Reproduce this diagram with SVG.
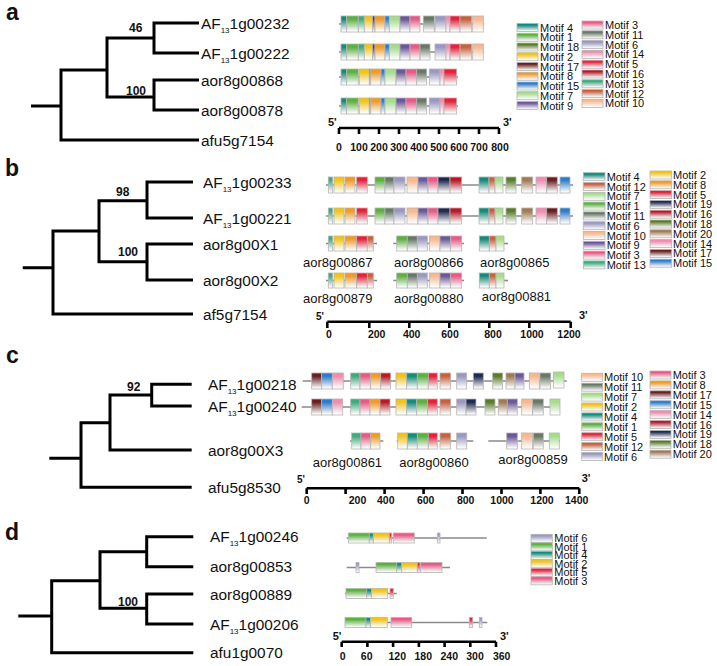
<svg xmlns="http://www.w3.org/2000/svg" width="717" height="666" viewBox="0 0 717 666">
<defs>
<linearGradient id="g1" x1="0" y1="0" x2="0" y2="1"><stop offset="0" stop-color="#5cb040"/><stop offset="0.2" stop-color="#5cb040"/><stop offset="0.95" stop-color="#fff"/></linearGradient>
<linearGradient id="g2" x1="0" y1="0" x2="0" y2="1"><stop offset="0" stop-color="#f2c417"/><stop offset="0.2" stop-color="#f2c417"/><stop offset="0.95" stop-color="#fff"/></linearGradient>
<linearGradient id="g3" x1="0" y1="0" x2="0" y2="1"><stop offset="0" stop-color="#e85a85"/><stop offset="0.2" stop-color="#e85a85"/><stop offset="0.95" stop-color="#fff"/></linearGradient>
<linearGradient id="g4" x1="0" y1="0" x2="0" y2="1"><stop offset="0" stop-color="#148a7a"/><stop offset="0.2" stop-color="#148a7a"/><stop offset="0.95" stop-color="#fff"/></linearGradient>
<linearGradient id="g5" x1="0" y1="0" x2="0" y2="1"><stop offset="0" stop-color="#e5203a"/><stop offset="0.2" stop-color="#e5203a"/><stop offset="0.95" stop-color="#fff"/></linearGradient>
<linearGradient id="g6" x1="0" y1="0" x2="0" y2="1"><stop offset="0" stop-color="#9a98c0"/><stop offset="0.2" stop-color="#9a98c0"/><stop offset="0.95" stop-color="#fff"/></linearGradient>
<linearGradient id="g7" x1="0" y1="0" x2="0" y2="1"><stop offset="0" stop-color="#a6dc8c"/><stop offset="0.2" stop-color="#a6dc8c"/><stop offset="0.95" stop-color="#fff"/></linearGradient>
<linearGradient id="g8" x1="0" y1="0" x2="0" y2="1"><stop offset="0" stop-color="#f09a28"/><stop offset="0.2" stop-color="#f09a28"/><stop offset="0.95" stop-color="#fff"/></linearGradient>
<linearGradient id="g9" x1="0" y1="0" x2="0" y2="1"><stop offset="0" stop-color="#6a5898"/><stop offset="0.2" stop-color="#6a5898"/><stop offset="0.95" stop-color="#fff"/></linearGradient>
<linearGradient id="g10" x1="0" y1="0" x2="0" y2="1"><stop offset="0" stop-color="#f8b890"/><stop offset="0.2" stop-color="#f8b890"/><stop offset="0.95" stop-color="#fff"/></linearGradient>
<linearGradient id="g11" x1="0" y1="0" x2="0" y2="1"><stop offset="0" stop-color="#687866"/><stop offset="0.2" stop-color="#687866"/><stop offset="0.95" stop-color="#fff"/></linearGradient>
<linearGradient id="g12" x1="0" y1="0" x2="0" y2="1"><stop offset="0" stop-color="#c8603e"/><stop offset="0.2" stop-color="#c8603e"/><stop offset="0.95" stop-color="#fff"/></linearGradient>
<linearGradient id="g13" x1="0" y1="0" x2="0" y2="1"><stop offset="0" stop-color="#3caa7c"/><stop offset="0.2" stop-color="#3caa7c"/><stop offset="0.95" stop-color="#fff"/></linearGradient>
<linearGradient id="g14" x1="0" y1="0" x2="0" y2="1"><stop offset="0" stop-color="#f08cb0"/><stop offset="0.2" stop-color="#f08cb0"/><stop offset="0.95" stop-color="#fff"/></linearGradient>
<linearGradient id="g15" x1="0" y1="0" x2="0" y2="1"><stop offset="0" stop-color="#2c7ccc"/><stop offset="0.2" stop-color="#2c7ccc"/><stop offset="0.95" stop-color="#fff"/></linearGradient>
<linearGradient id="g16" x1="0" y1="0" x2="0" y2="1"><stop offset="0" stop-color="#b81828"/><stop offset="0.2" stop-color="#b81828"/><stop offset="0.95" stop-color="#fff"/></linearGradient>
<linearGradient id="g17" x1="0" y1="0" x2="0" y2="1"><stop offset="0" stop-color="#6a1e1e"/><stop offset="0.2" stop-color="#6a1e1e"/><stop offset="0.95" stop-color="#fff"/></linearGradient>
<linearGradient id="g18" x1="0" y1="0" x2="0" y2="1"><stop offset="0" stop-color="#5a7c2a"/><stop offset="0.2" stop-color="#5a7c2a"/><stop offset="0.95" stop-color="#fff"/></linearGradient>
<linearGradient id="g19" x1="0" y1="0" x2="0" y2="1"><stop offset="0" stop-color="#1e2a50"/><stop offset="0.2" stop-color="#1e2a50"/><stop offset="0.95" stop-color="#fff"/></linearGradient>
<linearGradient id="g20" x1="0" y1="0" x2="0" y2="1"><stop offset="0" stop-color="#a07a52"/><stop offset="0.2" stop-color="#a07a52"/><stop offset="0.95" stop-color="#fff"/></linearGradient>
</defs>
<style>
text{font-family:"Liberation Sans",Arial,sans-serif;fill:#111}
.pl{font-size:23px;font-weight:bold}
.lf{font-size:15.4px}
.sub{font-size:8px}
.bs{font-size:12px;font-weight:bold}
.ax{font-size:10.5px;font-weight:bold;text-anchor:middle}
.end{font-size:11px;font-weight:bold}
.gl{font-size:13px}
.lg{font-size:11px}
.tree{fill:none;stroke:#000;stroke-width:3}
.axl{fill:none;stroke:#000;stroke-width:2.6}
.m{stroke:#b4b4b4;stroke-width:0.8}
.ln{stroke:#8a8a8a;stroke-width:1.6}
</style>
<rect width="717" height="666" fill="#fff"/>

<!-- panel labels -->
<text class="pl" x="6" y="20">a</text>
<text class="pl" x="5" y="176">b</text>
<text class="pl" x="6" y="363">c</text>
<text class="pl" x="5" y="540">d</text>

<!-- connectors: tree branches -->
<g id="connectors">
<path class="tree" d="M199,23 H154 V53 H199 M199,80 H154 V110 H199 M154,38 H107 V97 H154 M107,70 H61 V140 H199 M31,106 H61"/>
<path class="tree" d="M193,182 H147 V218 H193 M193,244 H147 V280 H193 M147,200.7 H99 V261.7 H147 M99,231 H53 V314 H193 M22.7,267.7 H53"/>
<path class="tree" d="M191.7,384.3 H151.7 V406 H191.7 M151.7,395 H110 V450 H191.7 M110,422.7 H81 V487.3 H191.7 M49.3,458.3 H81"/>
<path class="tree" d="M193.3,536.7 H146.7 V566.7 H193.3 M193.3,594 H146.7 V624 H193.3 M146.7,551.7 H100 V608.3 H146.7 M100,580.7 H51.7 V652.7 H193.3 M18.3,616 H51.7"/>
</g>

<!-- bootstrap values -->
<g id="bootstrap">
<text class="bs" x="129" y="31.5">46</text>
<text class="bs" x="126" y="94.5">100</text>
<text class="bs" x="116" y="196">98</text>
<text class="bs" x="118" y="255.5">100</text>
<text class="bs" x="127" y="391">92</text>
<text class="bs" x="118" y="606">100</text>
</g>

<!-- leaf labels -->
<g id="leaves-a">
<text class="lf" x="201" y="29">AF<tspan class="sub" dy="4">13</tspan><tspan dy="-4">1g00232</tspan></text>
<text class="lf" x="201" y="59">AF<tspan class="sub" dy="4">13</tspan><tspan dy="-4">1g00222</tspan></text>
<text class="lf" x="201" y="86">aor8g00868</text>
<text class="lf" x="201" y="116">aor8g00878</text>
<text class="lf" x="201" y="146">afu5g7154</text>
</g>
<g id="leaves-b">
<text class="lf" x="203" y="187.5">AF<tspan class="sub" dy="4">13</tspan><tspan dy="-4">1g00233</tspan></text>
<text class="lf" x="203" y="223.5">AF<tspan class="sub" dy="4">13</tspan><tspan dy="-4">1g00221</tspan></text>
<text class="lf" x="203" y="249.5">aor8g00X1</text>
<text class="lf" x="203" y="285.5">aor8g00X2</text>
<text class="lf" x="203" y="319.5">af5g7154</text>
</g>
<g id="leaves-c">
<text class="lf" x="208" y="390">AF<tspan class="sub" dy="4">13</tspan><tspan dy="-4">1g00218</tspan></text>
<text class="lf" x="208" y="411.5">AF<tspan class="sub" dy="4">13</tspan><tspan dy="-4">1g00240</tspan></text>
<text class="lf" x="208" y="455.5">aor8g00X3</text>
<text class="lf" x="208" y="493">afu5g8530</text>
</g>
<g id="leaves-d">
<text class="lf" x="210" y="542">AF<tspan class="sub" dy="4">13</tspan><tspan dy="-4">1g00246</tspan></text>
<text class="lf" x="210" y="572">aor8g00853</text>
<text class="lf" x="210" y="599.5">aor8g00889</text>
<text class="lf" x="210" y="629.5">AF<tspan class="sub" dy="4">13</tspan><tspan dy="-4">1g00206</tspan></text>
<text class="lf" x="210" y="658">afu1g0070</text>
</g>

<!-- PANEL A motif rows -->
<g id="a-row1" transform="translate(0,16)">
<line class="ln" x1="339" y1="8" x2="484" y2="8"/>
<rect class="m" x="341" y="0" width="5.7" height="16" fill="url(#g4)"/>
<rect class="m" x="346.7" y="0" width="11.6" height="16" fill="url(#g1)"/>
<rect class="m" x="358.3" y="0" width="6" height="16" fill="url(#g13)"/>
<rect class="m" x="364.3" y="0" width="8.4" height="16" fill="url(#g2)"/>
<rect class="m" x="372.7" y="0" width="2.3" height="16" fill="url(#g17)"/>
<rect class="m" x="375" y="0" width="10" height="16" fill="url(#g8)"/>
<rect class="m" x="385" y="0" width="4.3" height="16" fill="url(#g15)"/>
<rect class="m" x="389.3" y="0" width="10.7" height="16" fill="url(#g7)"/>
<rect class="m" x="400" y="0" width="10" height="16" fill="url(#g9)"/>
<rect class="m" x="410" y="0" width="10" height="16" fill="url(#g3)"/>
<rect class="m" x="423.3" y="0" width="11" height="16" fill="url(#g11)"/>
<rect class="m" x="435" y="0" width="11" height="16" fill="url(#g6)"/>
<rect class="m" x="446" y="0" width="4" height="16" fill="url(#g14)"/>
<rect class="m" x="450" y="0" width="10" height="16" fill="url(#g5)"/>
<rect class="m" x="460" y="0" width="11.7" height="16" fill="url(#g12)"/>
<rect class="m" x="472.7" y="0" width="10.6" height="16" fill="url(#g10)"/>
</g>
<g id="a-row2" transform="translate(0,44)">
<line class="ln" x1="339" y1="8" x2="484" y2="8"/>
<rect class="m" x="341" y="0" width="5.7" height="16" fill="url(#g4)"/>
<rect class="m" x="346.7" y="0" width="11.6" height="16" fill="url(#g1)"/>
<rect class="m" x="358.3" y="0" width="6" height="16" fill="url(#g13)"/>
<rect class="m" x="364.3" y="0" width="8.4" height="16" fill="url(#g2)"/>
<rect class="m" x="372.7" y="0" width="2.3" height="16" fill="url(#g17)"/>
<rect class="m" x="375" y="0" width="10" height="16" fill="url(#g8)"/>
<rect class="m" x="385" y="0" width="4.3" height="16" fill="url(#g15)"/>
<rect class="m" x="389.3" y="0" width="10.7" height="16" fill="url(#g7)"/>
<rect class="m" x="400" y="0" width="10" height="16" fill="url(#g9)"/>
<rect class="m" x="410" y="0" width="10" height="16" fill="url(#g3)"/>
<rect class="m" x="420" y="0" width="10" height="16" fill="url(#g11)"/>
<rect class="m" x="435" y="0" width="11" height="16" fill="url(#g6)"/>
<rect class="m" x="446" y="0" width="4" height="16" fill="url(#g14)"/>
<rect class="m" x="450" y="0" width="10" height="16" fill="url(#g5)"/>
<rect class="m" x="460" y="0" width="11.7" height="16" fill="url(#g12)"/>
<rect class="m" x="472.7" y="0" width="10.6" height="16" fill="url(#g10)"/>
</g>
<g id="a-row3" transform="translate(0,69)">
<line class="ln" x1="339" y1="8" x2="458" y2="8"/>
<rect class="m" x="341" y="0" width="5.7" height="16" fill="url(#g4)"/>
<rect class="m" x="346.7" y="0" width="11.6" height="16" fill="url(#g1)"/>
<rect class="m" x="359.3" y="0" width="10" height="16" fill="url(#g2)"/>
<rect class="m" x="369.3" y="0" width="1.4" height="16" fill="url(#g17)"/>
<rect class="m" x="370.7" y="0" width="10.3" height="16" fill="url(#g8)"/>
<rect class="m" x="381" y="0" width="4" height="16" fill="url(#g15)"/>
<rect class="m" x="385" y="0" width="11" height="16" fill="url(#g7)"/>
<rect class="m" x="396" y="0" width="10" height="16" fill="url(#g9)"/>
<rect class="m" x="406" y="0" width="10.7" height="16" fill="url(#g3)"/>
<rect class="m" x="416.7" y="0" width="10" height="16" fill="url(#g11)"/>
<rect class="m" x="429.3" y="0" width="10.7" height="16" fill="url(#g6)"/>
<rect class="m" x="440" y="0" width="4" height="16" fill="url(#g14)"/>
<rect class="m" x="444" y="0" width="12.7" height="16" fill="url(#g5)"/>
</g>
<g id="a-row4" transform="translate(0,98)">
<line class="ln" x1="339" y1="8" x2="458" y2="8"/>
<rect class="m" x="341" y="0" width="5.7" height="16" fill="url(#g4)"/>
<rect class="m" x="346.7" y="0" width="11.6" height="16" fill="url(#g1)"/>
<rect class="m" x="359.3" y="0" width="10" height="16" fill="url(#g2)"/>
<rect class="m" x="369.3" y="0" width="1.4" height="16" fill="url(#g17)"/>
<rect class="m" x="370.7" y="0" width="10.3" height="16" fill="url(#g8)"/>
<rect class="m" x="381" y="0" width="4" height="16" fill="url(#g15)"/>
<rect class="m" x="385" y="0" width="11" height="16" fill="url(#g7)"/>
<rect class="m" x="396" y="0" width="10" height="16" fill="url(#g9)"/>
<rect class="m" x="406" y="0" width="10.7" height="16" fill="url(#g3)"/>
<rect class="m" x="416.7" y="0" width="10" height="16" fill="url(#g11)"/>
<rect class="m" x="429.3" y="0" width="10.7" height="16" fill="url(#g6)"/>
<rect class="m" x="440" y="0" width="4" height="16" fill="url(#g14)"/>
<rect class="m" x="444" y="0" width="12.7" height="16" fill="url(#g5)"/>
</g>

<!-- PANEL A scale -->
<g id="a-scale">
<path class="axl" d="M339,128 H499 M339,128 V134 M359,128 V134 M379,128 V134 M399,128 V134 M419,128 V134 M439,128 V134 M459,128 V134 M479,128 V134 M499,128 V134"/>
<text class="end" x="328" y="126">5'</text>
<text class="end" x="503" y="126">3'</text>
<text class="ax" x="339" y="150.5">0</text>
<text class="ax" x="359" y="150.5">100</text>
<text class="ax" x="379" y="150.5">200</text>
<text class="ax" x="399" y="150.5">300</text>
<text class="ax" x="419" y="150.5">400</text>
<text class="ax" x="439" y="150.5">500</text>
<text class="ax" x="459" y="150.5">600</text>
<text class="ax" x="479" y="150.5">700</text>
<text class="ax" x="500" y="150.5">800</text>
</g>

<!-- PANEL A legend -->
<g id="a-legend">
<rect class="m" x="517" y="23.5" width="21" height="8" fill="url(#g4)"/><text class="lg" x="540" y="31.5">Motif 4</text>
<rect class="m" x="517" y="33.25" width="21" height="8" fill="url(#g1)"/><text class="lg" x="540" y="41.25">Motif 1</text>
<rect class="m" x="517" y="43" width="21" height="8" fill="url(#g18)"/><text class="lg" x="540" y="51">Motif 18</text>
<rect class="m" x="517" y="52.75" width="21" height="8" fill="url(#g2)"/><text class="lg" x="540" y="60.75">Motif 2</text>
<rect class="m" x="517" y="62.5" width="21" height="8" fill="url(#g17)"/><text class="lg" x="540" y="70.5">Motif 17</text>
<rect class="m" x="517" y="72.25" width="21" height="8" fill="url(#g8)"/><text class="lg" x="540" y="80.25">Motif 8</text>
<rect class="m" x="517" y="82" width="21" height="8" fill="url(#g15)"/><text class="lg" x="540" y="90">Motif 15</text>
<rect class="m" x="517" y="91.75" width="21" height="8" fill="url(#g7)"/><text class="lg" x="540" y="99.75">Motif 7</text>
<rect class="m" x="517" y="101.5" width="21" height="8" fill="url(#g9)"/><text class="lg" x="540" y="109.5">Motif 9</text>
<rect class="m" x="582" y="21" width="21" height="8" fill="url(#g3)"/><text class="lg" x="605" y="29">Motif 3</text>
<rect class="m" x="582" y="30.8" width="21" height="8" fill="url(#g11)"/><text class="lg" x="605" y="38.8">Motif 11</text>
<rect class="m" x="582" y="40.6" width="21" height="8" fill="url(#g6)"/><text class="lg" x="605" y="48.6">Motif 6</text>
<rect class="m" x="582" y="50.4" width="21" height="8" fill="url(#g14)"/><text class="lg" x="605" y="58.4">Motif 14</text>
<rect class="m" x="582" y="60.2" width="21" height="8" fill="url(#g5)"/><text class="lg" x="605" y="68.2">Motif 5</text>
<rect class="m" x="582" y="70" width="21" height="8" fill="url(#g16)"/><text class="lg" x="605" y="78">Motif 16</text>
<rect class="m" x="582" y="79.8" width="21" height="8" fill="url(#g13)"/><text class="lg" x="605" y="87.8">Motif 13</text>
<rect class="m" x="582" y="89.6" width="21" height="8" fill="url(#g12)"/><text class="lg" x="605" y="97.6">Motif 12</text>
<rect class="m" x="582" y="99.4" width="21" height="8" fill="url(#g10)"/><text class="lg" x="605" y="107.4">Motif 10</text>
</g>

<!-- PANEL B motif rows -->
<g id="b-row1" transform="translate(0,177)">
<line class="ln" x1="326" y1="8" x2="573" y2="8"/>
<rect class="m" x="328.3" y="0" width="4.4" height="16" fill="url(#g13)"/>
<rect class="m" x="334" y="0" width="10" height="16" fill="url(#g2)"/>
<rect class="m" x="345" y="0" width="10" height="16" fill="url(#g8)"/>
<rect class="m" x="356.7" y="0" width="10.6" height="16" fill="url(#g5)"/>
<rect class="m" x="375" y="0" width="10" height="16" fill="url(#g1)"/>
<rect class="m" x="385" y="0" width="9" height="16" fill="url(#g11)"/>
<rect class="m" x="394" y="0" width="11" height="16" fill="url(#g6)"/>
<rect class="m" x="407" y="0" width="11" height="16" fill="url(#g10)"/>
<rect class="m" x="418" y="0" width="10" height="16" fill="url(#g9)"/>
<rect class="m" x="428" y="0" width="10" height="16" fill="url(#g3)"/>
<rect class="m" x="438" y="0" width="12" height="16" fill="url(#g19)"/>
<rect class="m" x="450" y="0" width="11.7" height="16" fill="url(#g16)"/>
<rect class="m" x="479" y="0" width="10" height="16" fill="url(#g4)"/>
<rect class="m" x="489" y="0" width="6" height="16" fill="url(#g12)"/>
<rect class="m" x="495" y="0" width="8" height="16" fill="url(#g7)"/>
<rect class="m" x="506" y="0" width="10" height="16" fill="url(#g18)"/>
<rect class="m" x="521.7" y="0" width="11" height="16" fill="url(#g20)"/>
<rect class="m" x="536" y="0" width="10.7" height="16" fill="url(#g14)"/>
<rect class="m" x="546.7" y="0" width="10.6" height="16" fill="url(#g17)"/>
<rect class="m" x="560" y="0" width="10" height="16" fill="url(#g15)"/>
</g>
<g id="b-row2" transform="translate(0,208)">
<line class="ln" x1="326" y1="8" x2="573" y2="8"/>
<rect class="m" x="328.3" y="0" width="4.4" height="16" fill="url(#g13)"/>
<rect class="m" x="334" y="0" width="10" height="16" fill="url(#g2)"/>
<rect class="m" x="345" y="0" width="10" height="16" fill="url(#g8)"/>
<rect class="m" x="356.7" y="0" width="10.6" height="16" fill="url(#g5)"/>
<rect class="m" x="375" y="0" width="10" height="16" fill="url(#g1)"/>
<rect class="m" x="385" y="0" width="9" height="16" fill="url(#g11)"/>
<rect class="m" x="394" y="0" width="11" height="16" fill="url(#g6)"/>
<rect class="m" x="407" y="0" width="11" height="16" fill="url(#g10)"/>
<rect class="m" x="418" y="0" width="10" height="16" fill="url(#g9)"/>
<rect class="m" x="428" y="0" width="10" height="16" fill="url(#g3)"/>
<rect class="m" x="438" y="0" width="12" height="16" fill="url(#g19)"/>
<rect class="m" x="450" y="0" width="11.7" height="16" fill="url(#g16)"/>
<rect class="m" x="479" y="0" width="10" height="16" fill="url(#g4)"/>
<rect class="m" x="489" y="0" width="6" height="16" fill="url(#g12)"/>
<rect class="m" x="495" y="0" width="8" height="16" fill="url(#g7)"/>
<rect class="m" x="506" y="0" width="10" height="16" fill="url(#g18)"/>
<rect class="m" x="521.7" y="0" width="11" height="16" fill="url(#g20)"/>
<rect class="m" x="536" y="0" width="10.7" height="16" fill="url(#g14)"/>
<rect class="m" x="546.7" y="0" width="10.6" height="16" fill="url(#g17)"/>
<rect class="m" x="560" y="0" width="10" height="16" fill="url(#g15)"/>
</g>
<g id="b-row3" transform="translate(0,236)">
<line class="ln" x1="326" y1="7.5" x2="377" y2="7.5"/>
<rect class="m" x="328.3" y="0" width="4.4" height="15" fill="url(#g13)"/>
<rect class="m" x="334" y="0" width="10" height="15" fill="url(#g2)"/>
<rect class="m" x="345" y="0" width="11.7" height="15" fill="url(#g8)"/>
<rect class="m" x="356.7" y="0" width="10.6" height="15" fill="url(#g5)"/>
<rect class="m" x="367.3" y="0" width="6" height="15" fill="url(#g12)"/>
<line class="ln" x1="393.3" y1="7.5" x2="464" y2="7.5"/>
<rect class="m" x="396.7" y="0" width="10.6" height="15" fill="url(#g1)"/>
<rect class="m" x="407.3" y="0" width="10" height="15" fill="url(#g11)"/>
<rect class="m" x="417.3" y="0" width="10" height="15" fill="url(#g6)"/>
<rect class="m" x="429.3" y="0" width="10.7" height="15" fill="url(#g10)"/>
<rect class="m" x="440" y="0" width="10.7" height="15" fill="url(#g9)"/>
<rect class="m" x="450.7" y="0" width="11" height="15" fill="url(#g3)"/>
<line class="ln" x1="479" y1="7.5" x2="508" y2="7.5"/>
<rect class="m" x="479.3" y="0" width="10" height="15" fill="url(#g4)"/>
<rect class="m" x="489.3" y="0" width="6.7" height="15" fill="url(#g12)"/>
<rect class="m" x="496" y="0" width="8" height="15" fill="url(#g7)"/>
</g>
<g id="b-genes1">
<text class="gl" x="303" y="267">aor8g00867</text>
<text class="gl" x="394" y="267">aor8g00866</text>
<text class="gl" x="480" y="267">aor8g00865</text>
</g>
<g id="b-row4" transform="translate(0,273)">
<line class="ln" x1="326" y1="7.5" x2="377" y2="7.5"/>
<rect class="m" x="328.3" y="0" width="4.4" height="15" fill="url(#g13)"/>
<rect class="m" x="334" y="0" width="10" height="15" fill="url(#g2)"/>
<rect class="m" x="345" y="0" width="11.7" height="15" fill="url(#g8)"/>
<rect class="m" x="356.7" y="0" width="10.6" height="15" fill="url(#g5)"/>
<rect class="m" x="367.3" y="0" width="6" height="15" fill="url(#g12)"/>
<line class="ln" x1="393.3" y1="7.5" x2="464" y2="7.5"/>
<rect class="m" x="396.7" y="0" width="10.6" height="15" fill="url(#g1)"/>
<rect class="m" x="407.3" y="0" width="10" height="15" fill="url(#g11)"/>
<rect class="m" x="417.3" y="0" width="10" height="15" fill="url(#g6)"/>
<rect class="m" x="429.3" y="0" width="10.7" height="15" fill="url(#g10)"/>
<rect class="m" x="440" y="0" width="10.7" height="15" fill="url(#g9)"/>
<rect class="m" x="450.7" y="0" width="11" height="15" fill="url(#g3)"/>
<line class="ln" x1="479" y1="7.5" x2="508" y2="7.5"/>
<rect class="m" x="479.3" y="0" width="10" height="15" fill="url(#g4)"/>
<rect class="m" x="489.3" y="0" width="6.7" height="15" fill="url(#g12)"/>
<rect class="m" x="496" y="0" width="8" height="15" fill="url(#g7)"/>
</g>
<g id="b-genes2">
<text class="gl" x="303" y="303">aor8g00879</text>
<text class="gl" x="394" y="303">aor8g00880</text>
<text class="gl" x="481.7" y="301">aor8g00881</text>
</g>

<!-- PANEL B scale -->
<g id="b-scale">
<path class="axl" d="M327.3,321.7 H570.7 M327.3,321.7 V328 M369.3,321.7 V328 M409.3,321.7 V328 M449.3,321.7 V328 M489.3,321.7 V328 M529.3,321.7 V328 M570.7,321.7 V328"/>
<text class="end" x="316" y="320" style="font-size:10px">5'</text>
<text class="end" x="579" y="319">3'</text>
<text class="ax" x="329" y="337.5">0</text>
<text class="ax" x="376.7" y="337.5">200</text>
<text class="ax" x="411.7" y="337.5">400</text>
<text class="ax" x="450" y="337.5">600</text>
<text class="ax" x="493" y="337.5">800</text>
<text class="ax" x="532" y="337.5">1000</text>
<text class="ax" x="569" y="337.5">1200</text>
</g>

<!-- PANEL B legend -->
<g id="b-legend">
<rect class="m" x="583.3" y="172.7" width="21.7" height="8" fill="url(#g4)"/><text class="lg" x="606.7" y="180.7">Motif 4</text>
<rect class="m" x="583.3" y="182.5" width="21.7" height="8" fill="url(#g12)"/><text class="lg" x="606.7" y="190.5">Motif 12</text>
<rect class="m" x="583.3" y="192.3" width="21.7" height="8" fill="url(#g7)"/><text class="lg" x="606.7" y="200.3">Motif 7</text>
<rect class="m" x="583.3" y="202.1" width="21.7" height="8" fill="url(#g1)"/><text class="lg" x="606.7" y="210.1">Motif 1</text>
<rect class="m" x="583.3" y="211.9" width="21.7" height="8" fill="url(#g11)"/><text class="lg" x="606.7" y="219.9">Motif 11</text>
<rect class="m" x="583.3" y="221.7" width="21.7" height="8" fill="url(#g6)"/><text class="lg" x="606.7" y="229.7">Motif 6</text>
<rect class="m" x="583.3" y="231.5" width="21.7" height="8" fill="url(#g10)"/><text class="lg" x="606.7" y="239.5">Motif 10</text>
<rect class="m" x="583.3" y="241.3" width="21.7" height="8" fill="url(#g9)"/><text class="lg" x="606.7" y="249.3">Motif 9</text>
<rect class="m" x="583.3" y="251.1" width="21.7" height="8" fill="url(#g3)"/><text class="lg" x="606.7" y="259.1">Motif 3</text>
<rect class="m" x="583.3" y="260.9" width="21.7" height="8" fill="url(#g13)"/><text class="lg" x="606.7" y="268.9">Motif 13</text>
<rect class="m" x="650" y="171" width="21.7" height="8" fill="url(#g2)"/><text class="lg" x="673" y="179">Motif 2</text>
<rect class="m" x="650" y="180.8" width="21.7" height="8" fill="url(#g8)"/><text class="lg" x="673" y="188.8">Motif 8</text>
<rect class="m" x="650" y="190.6" width="21.7" height="8" fill="url(#g5)"/><text class="lg" x="673" y="198.6">Motif 5</text>
<rect class="m" x="650" y="200.4" width="21.7" height="8" fill="url(#g19)"/><text class="lg" x="673" y="208.4">Motif 19</text>
<rect class="m" x="650" y="210.2" width="21.7" height="8" fill="url(#g16)"/><text class="lg" x="673" y="218.2">Motif 16</text>
<rect class="m" x="650" y="220" width="21.7" height="8" fill="url(#g18)"/><text class="lg" x="673" y="228">Motif 18</text>
<rect class="m" x="650" y="229.8" width="21.7" height="8" fill="url(#g20)"/><text class="lg" x="673" y="237.8">Motif 20</text>
<rect class="m" x="650" y="239.6" width="21.7" height="8" fill="url(#g14)"/><text class="lg" x="673" y="247.6">Motif 14</text>
<rect class="m" x="650" y="249.4" width="21.7" height="8" fill="url(#g17)"/><text class="lg" x="673" y="257.4">Motif 17</text>
<rect class="m" x="650" y="259.2" width="21.7" height="8" fill="url(#g15)"/><text class="lg" x="673" y="267.2">Motif 15</text>
</g>

<!-- PANEL C motif rows -->
<g id="c-row1" transform="translate(0,373)">
<line class="ln" x1="302.7" y1="8" x2="566.7" y2="8"/>
<rect class="m" x="311.7" y="0" width="10" height="16" fill="url(#g17)"/>
<rect class="m" x="321.7" y="0" width="10.6" height="16" fill="url(#g15)"/>
<rect class="m" x="332.3" y="0" width="11" height="16" fill="url(#g14)"/>
<rect class="m" x="350.7" y="0" width="9.3" height="16" fill="url(#g13)"/>
<rect class="m" x="360" y="0" width="10.7" height="16" fill="url(#g3)"/>
<rect class="m" x="370.7" y="0" width="10" height="16" fill="url(#g8)"/>
<rect class="m" x="380.7" y="0" width="10" height="16" fill="url(#g16)"/>
<rect class="m" x="396" y="0" width="10.7" height="16" fill="url(#g2)"/>
<rect class="m" x="406.7" y="0" width="10.6" height="16" fill="url(#g4)"/>
<rect class="m" x="417.3" y="0" width="11" height="16" fill="url(#g1)"/>
<rect class="m" x="428.3" y="0" width="9" height="16" fill="url(#g5)"/>
<rect class="m" x="440" y="0" width="10.7" height="16" fill="url(#g12)"/>
<rect class="m" x="456.7" y="0" width="10" height="16" fill="url(#g6)"/>
<rect class="m" x="473.3" y="0" width="10" height="16" fill="url(#g19)"/>
<rect class="m" x="492.7" y="0" width="10" height="16" fill="url(#g18)"/>
<rect class="m" x="506" y="0" width="9" height="16" fill="url(#g20)"/>
<rect class="m" x="515" y="0" width="9" height="16" fill="url(#g9)"/>
<rect class="m" x="529.3" y="0" width="10" height="16" fill="url(#g10)"/>
<rect class="m" x="540" y="0" width="10.7" height="16" fill="url(#g11)"/>
<rect class="m" x="553.3" y="-1" width="10.7" height="16" fill="url(#g7)"/>
</g>
<g id="c-row2" transform="translate(0,399)">
<line class="ln" x1="301.7" y1="8" x2="560" y2="8"/>
<rect class="m" x="311.7" y="0" width="10" height="16" fill="url(#g17)"/>
<rect class="m" x="321.7" y="0" width="10.6" height="16" fill="url(#g15)"/>
<rect class="m" x="332.3" y="0" width="10.4" height="16" fill="url(#g14)"/>
<rect class="m" x="350.7" y="0" width="9.3" height="16" fill="url(#g13)"/>
<rect class="m" x="360" y="0" width="10" height="16" fill="url(#g3)"/>
<rect class="m" x="370" y="0" width="10" height="16" fill="url(#g8)"/>
<rect class="m" x="380" y="0" width="10" height="16" fill="url(#g16)"/>
<rect class="m" x="396" y="0" width="10.7" height="16" fill="url(#g2)"/>
<rect class="m" x="406.7" y="0" width="10" height="16" fill="url(#g4)"/>
<rect class="m" x="416.7" y="0" width="11" height="16" fill="url(#g1)"/>
<rect class="m" x="427.7" y="0" width="9.6" height="16" fill="url(#g5)"/>
<rect class="m" x="440" y="0" width="10.7" height="16" fill="url(#g12)"/>
<rect class="m" x="456.7" y="0" width="9.3" height="16" fill="url(#g6)"/>
<rect class="m" x="466" y="0" width="10" height="16" fill="url(#g19)"/>
<rect class="m" x="485" y="0" width="10" height="16" fill="url(#g18)"/>
<rect class="m" x="498.3" y="0" width="9" height="16" fill="url(#g20)"/>
<rect class="m" x="507.3" y="0" width="10" height="16" fill="url(#g9)"/>
<rect class="m" x="521.7" y="0" width="11" height="16" fill="url(#g10)"/>
<rect class="m" x="532.7" y="0" width="10.6" height="16" fill="url(#g11)"/>
<rect class="m" x="550" y="0" width="10" height="16" fill="url(#g7)"/>
</g>
<g id="c-row3" transform="translate(0,433)">
<line class="ln" x1="350" y1="8" x2="383.3" y2="8"/>
<rect class="m" x="351.7" y="0" width="9.3" height="16" fill="url(#g13)"/>
<rect class="m" x="361" y="0" width="9.7" height="16" fill="url(#g3)"/>
<rect class="m" x="370.7" y="0" width="9.3" height="16" fill="url(#g8)"/>
<line class="ln" x1="396.7" y1="8" x2="473.3" y2="8"/>
<rect class="m" x="397.7" y="0" width="9.6" height="16" fill="url(#g2)"/>
<rect class="m" x="407.3" y="0" width="10" height="16" fill="url(#g4)"/>
<rect class="m" x="417.3" y="0" width="11" height="16" fill="url(#g1)"/>
<rect class="m" x="428.3" y="0" width="9" height="16" fill="url(#g5)"/>
<rect class="m" x="440" y="0" width="10.7" height="16" fill="url(#g12)"/>
<rect class="m" x="456.7" y="0" width="10" height="16" fill="url(#g6)"/>
<line class="ln" x1="488.3" y1="8" x2="560" y2="8"/>
<rect class="m" x="506.7" y="0" width="10.6" height="16" fill="url(#g9)"/>
<rect class="m" x="521.7" y="0" width="11" height="16" fill="url(#g10)"/>
<rect class="m" x="533.3" y="0" width="10" height="16" fill="url(#g11)"/>
<rect class="m" x="549.3" y="0" width="10" height="16" fill="url(#g7)"/>
</g>
<g id="c-genes">
<text class="gl" x="312.7" y="467">aor8g00861</text>
<text class="gl" x="399.3" y="467">aor8g00860</text>
<text class="gl" x="498.3" y="464">aor8g00859</text>
</g>

<!-- PANEL C scale -->
<g id="c-scale">
<path class="axl" d="M306.7,488.3 H579.3 M306.7,488.3 V494 M345.6,488.3 V494 M384.6,488.3 V494 M423.6,488.3 V494 M462.5,488.3 V494 M501.5,488.3 V494 M540.4,488.3 V494 M579.3,488.3 V494"/>
<text class="end" x="297" y="483" style="font-size:10px">5'</text>
<text class="end" x="581.7" y="482">3'</text>
<text class="ax" x="306.7" y="504">0</text>
<text class="ax" x="357.5" y="504">200</text>
<text class="ax" x="385.8" y="504">400</text>
<text class="ax" x="425.7" y="504">600</text>
<text class="ax" x="465.7" y="504">800</text>
<text class="ax" x="502" y="504">1000</text>
<text class="ax" x="542" y="504">1200</text>
<text class="ax" x="576.7" y="504">1400</text>
</g>

<!-- PANEL C legend -->
<g id="c-legend">
<rect class="m" x="581.7" y="373.3" width="21" height="8" fill="url(#g10)"/><text class="lg" x="604" y="381.3">Motif 10</text>
<rect class="m" x="581.7" y="383.2" width="21" height="8" fill="url(#g11)"/><text class="lg" x="604" y="391.2">Motif 11</text>
<rect class="m" x="581.7" y="393.1" width="21" height="8" fill="url(#g7)"/><text class="lg" x="604" y="401.1">Motif 7</text>
<rect class="m" x="581.7" y="403" width="21" height="8" fill="url(#g2)"/><text class="lg" x="604" y="411">Motif 2</text>
<rect class="m" x="581.7" y="412.9" width="21" height="8" fill="url(#g4)"/><text class="lg" x="604" y="420.9">Motif 4</text>
<rect class="m" x="581.7" y="422.8" width="21" height="8" fill="url(#g1)"/><text class="lg" x="604" y="430.8">Motif 1</text>
<rect class="m" x="581.7" y="432.7" width="21" height="8" fill="url(#g5)"/><text class="lg" x="604" y="440.7">Motif 5</text>
<rect class="m" x="581.7" y="442.6" width="21" height="8" fill="url(#g12)"/><text class="lg" x="604" y="450.6">Motif 12</text>
<rect class="m" x="581.7" y="452.5" width="21" height="8" fill="url(#g6)"/><text class="lg" x="604" y="460.5">Motif 6</text>
<rect class="m" x="650" y="371" width="21" height="8" fill="url(#g3)"/><text class="lg" x="672.7" y="379">Motif 3</text>
<rect class="m" x="650" y="380.9" width="21" height="8" fill="url(#g8)"/><text class="lg" x="672.7" y="388.9">Motif 8</text>
<rect class="m" x="650" y="390.8" width="21" height="8" fill="url(#g17)"/><text class="lg" x="672.7" y="398.8">Motif 17</text>
<rect class="m" x="650" y="400.7" width="21" height="8" fill="url(#g15)"/><text class="lg" x="672.7" y="408.7">Motif 15</text>
<rect class="m" x="650" y="410.6" width="21" height="8" fill="url(#g14)"/><text class="lg" x="672.7" y="418.6">Motif 14</text>
<rect class="m" x="650" y="420.5" width="21" height="8" fill="url(#g16)"/><text class="lg" x="672.7" y="428.5">Motif 16</text>
<rect class="m" x="650" y="430.4" width="21" height="8" fill="url(#g19)"/><text class="lg" x="672.7" y="438.4">Motif 19</text>
<rect class="m" x="650" y="440.3" width="21" height="8" fill="url(#g18)"/><text class="lg" x="672.7" y="448.3">Motif 18</text>
<rect class="m" x="650" y="450.2" width="21" height="8" fill="url(#g20)"/><text class="lg" x="672.7" y="458.2">Motif 20</text>
</g>

<!-- PANEL D motif rows -->
<g id="d-row1" transform="translate(0,533)">
<line class="ln" x1="346.7" y1="5" x2="486.7" y2="5"/>
<rect class="m" x="348.3" y="0" width="21" height="10" fill="url(#g1)"/>
<rect class="m" x="369.3" y="0" width="4" height="10" fill="url(#g4)"/>
<rect class="m" x="373.3" y="0" width="16" height="10" fill="url(#g2)"/>
<rect class="m" x="389.3" y="0" width="2.4" height="10" fill="url(#g5)"/>
<rect class="m" x="393.3" y="0" width="21" height="10" fill="url(#g3)"/>
<rect class="m" x="437.3" y="0" width="2.7" height="10" fill="url(#g6)"/>
</g>
<g id="d-row2" transform="translate(0,562.5)">
<line class="ln" x1="346.7" y1="5" x2="450" y2="5"/>
<rect class="m" x="356" y="0" width="3" height="10" fill="url(#g6)"/>
<rect class="m" x="376" y="0" width="20.7" height="10" fill="url(#g1)"/>
<rect class="m" x="396.7" y="0" width="5" height="10" fill="url(#g4)"/>
<rect class="m" x="401.7" y="0" width="15.6" height="10" fill="url(#g2)"/>
<rect class="m" x="417.3" y="0" width="2.7" height="10" fill="url(#g5)"/>
<rect class="m" x="420.7" y="0" width="21.3" height="10" fill="url(#g3)"/>
</g>
<g id="d-row3" transform="translate(0,588.5)">
<line class="ln" x1="345" y1="5" x2="396.7" y2="5"/>
<rect class="m" x="346" y="0" width="20.7" height="10" fill="url(#g1)"/>
<rect class="m" x="366.7" y="0" width="5" height="10" fill="url(#g4)"/>
<rect class="m" x="371.7" y="0" width="16" height="10" fill="url(#g2)"/>
<rect class="m" x="390" y="0" width="3.3" height="10" fill="url(#g5)"/>
</g>
<g id="d-row4" transform="translate(0,617.5)">
<line class="ln" x1="345" y1="5" x2="487.3" y2="5"/>
<rect class="m" x="345" y="0" width="21" height="10" fill="url(#g1)"/>
<rect class="m" x="366" y="0" width="4.7" height="10" fill="url(#g4)"/>
<rect class="m" x="370.7" y="0" width="16.6" height="10" fill="url(#g2)"/>
<rect class="m" x="391" y="0" width="20.7" height="10" fill="url(#g3)"/>
<rect class="m" x="469.3" y="0" width="3.4" height="10" fill="url(#g5)"/>
<rect class="m" x="479.3" y="0" width="2.7" height="10" fill="url(#g6)"/>
</g>

<!-- PANEL D scale -->
<g id="d-scale">
<path class="axl" d="M341.7,641.7 H496 M341.7,641.7 V647 M367.4,641.7 V647 M393.1,641.7 V647 M418.9,641.7 V647 M444.6,641.7 V647 M470.3,641.7 V647 M496,641.7 V647"/>
<text class="end" x="332.7" y="640">5'</text>
<text class="end" x="500" y="640">3'</text>
<text class="ax" x="342.7" y="660">0</text>
<text class="ax" x="366.7" y="660">60</text>
<text class="ax" x="397.3" y="660">120</text>
<text class="ax" x="423.3" y="660">180</text>
<text class="ax" x="449.3" y="660">240</text>
<text class="ax" x="475" y="660">300</text>
<text class="ax" x="501.7" y="660">360</text>
</g>

<!-- PANEL D legend -->
<g id="d-legend">
<rect class="m" x="531" y="534.3" width="21.3" height="8" fill="url(#g6)"/><text class="lg" x="554.3" y="542.3">Motif 6</text>
<rect class="m" x="531" y="542.8" width="21.3" height="8" fill="url(#g1)"/><text class="lg" x="554.3" y="550.8">Motif 1</text>
<rect class="m" x="531" y="551.3" width="21.3" height="8" fill="url(#g4)"/><text class="lg" x="554.3" y="559.3">Motif 4</text>
<rect class="m" x="531" y="559.8" width="21.3" height="8" fill="url(#g2)"/><text class="lg" x="554.3" y="567.8">Motif 2</text>
<rect class="m" x="531" y="568.3" width="21.3" height="8" fill="url(#g5)"/><text class="lg" x="554.3" y="576.3">Motif 5</text>
<rect class="m" x="531" y="576.8" width="21.3" height="8" fill="url(#g3)"/><text class="lg" x="554.3" y="584.8">Motif 3</text>
</g>
</svg>
